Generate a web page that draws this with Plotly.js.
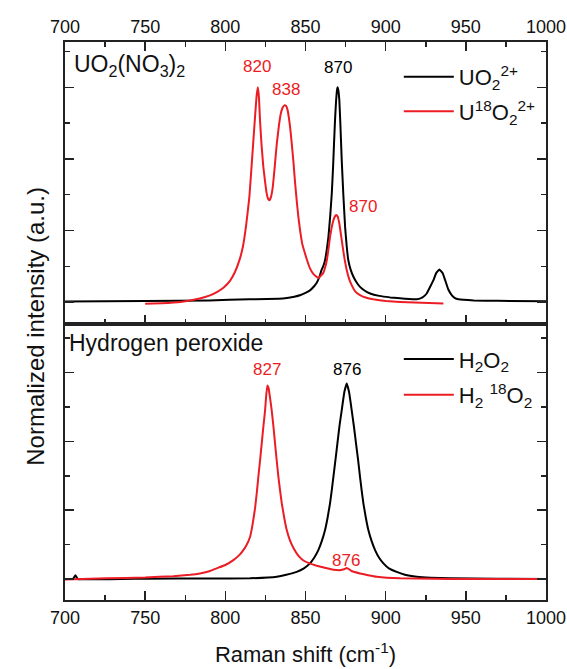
<!DOCTYPE html>
<html>
<head>
<meta charset="utf-8">
<script src="https://cdn.plot.ly/plotly-3.0.1.min.js"></script>
<style>html,body{margin:0;padding:0;background:#fff;}#chart{width:567px;height:669px;}</style>
</head>
<body>
<div id="chart"></div>
<script>
// ---- Top panel: UO2(NO3)2 ----
const uo2X = [700, 750, 790, 815, 836, 843, 847, 850, 853, 855.5, 857, 858.7, 860, 861.2, 862.2, 863.3, 864.3, 865.4, 866.4, 867.2, 867.8, 868.5, 869.1, 869.6, 870, 870.5, 871.1, 871.8, 872.6, 873.6, 874.7, 875.7, 876.7, 878.2, 879.9, 882, 884, 887, 890.3, 896, 902.7, 912, 919.4, 923, 925.6, 928, 929.8, 931.5, 933.5, 935.5, 937.1, 939, 941.2, 943, 945.4, 955, 970, 1000];
const uo2Y = [0.003, 0.005, 0.008, 0.013, 0.017, 0.025, 0.033, 0.043, 0.056, 0.075, 0.09, 0.118, 0.149, 0.17, 0.195, 0.245, 0.304, 0.4, 0.506, 0.63, 0.74, 0.86, 0.94, 0.985, 1.0, 0.985, 0.94, 0.82, 0.66, 0.5, 0.35, 0.26, 0.195, 0.15, 0.118, 0.09, 0.071, 0.053, 0.04, 0.029, 0.022, 0.016, 0.013, 0.022, 0.04, 0.075, 0.102, 0.135, 0.152, 0.135, 0.102, 0.06, 0.033, 0.02, 0.013, 0.008, 0.006, 0.004];

const u18X = [750, 760, 772, 784, 790, 795, 799, 803, 806, 809, 811, 813, 815, 817, 818.5, 819.5, 820.3, 821, 821.6, 822.6, 823.7, 824.8, 825.8, 826.7, 827.5, 828.5, 829.6, 830.8, 832.1, 833.4, 834.6, 835.7, 836.8, 837.8, 838.8, 839.6, 840.4, 841.4, 842.4, 843.4, 844.5, 845.5, 846.6, 848, 849.7, 851.2, 852.8, 855, 858, 861, 862.2, 863.3, 864.3, 865.3, 866.4, 867.4, 868.3, 869.1, 870, 871.1, 872.2, 873.2, 874.4, 875.7, 877.2, 878.8, 881, 884, 888, 892.3, 900, 909, 936];
const u18Y = [-0.008, -0.005, 0.001, 0.017, 0.03, 0.048, 0.068, 0.1, 0.14, 0.2, 0.26, 0.36, 0.49, 0.7, 0.86, 0.96, 1.0, 0.95, 0.85, 0.73, 0.63, 0.56, 0.506, 0.48, 0.474, 0.49, 0.536, 0.63, 0.738, 0.82, 0.878, 0.905, 0.916, 0.914, 0.895, 0.86, 0.815, 0.74, 0.66, 0.565, 0.474, 0.4, 0.335, 0.27, 0.226, 0.19, 0.157, 0.13, 0.112, 0.135, 0.16, 0.195, 0.245, 0.304, 0.35, 0.381, 0.398, 0.405, 0.4, 0.366, 0.31, 0.257, 0.2, 0.149, 0.108, 0.079, 0.05, 0.033, 0.02, 0.013, 0.005, 0.001, -0.006];

// ---- Bottom panel: hydrogen peroxide ----
const h2o2X = [705, 706.5, 708, 750, 790, 815.4, 832.1, 838, 844.5, 849, 852.8, 855.5, 858, 860.2, 862.2, 863.8, 865.3, 866.4, 867.4, 868.7, 869.9, 871.3, 872.6, 874.2, 875.7, 877.2, 878.8, 880.2, 881.5, 882.8, 884, 885, 886.1, 887.6, 889.2, 891.2, 893.4, 895.8, 898.6, 902, 906.9, 912, 919.4, 928, 940, 970, 1000];
const h2o2Y = [0.0, 0.02, 0.0, 0.002, 0.003, 0.004, 0.012, 0.022, 0.037, 0.055, 0.08, 0.11, 0.148, 0.195, 0.251, 0.315, 0.387, 0.455, 0.523, 0.61, 0.694, 0.79, 0.864, 0.955, 1.0, 0.955, 0.864, 0.78, 0.694, 0.61, 0.523, 0.455, 0.387, 0.315, 0.251, 0.195, 0.148, 0.11, 0.08, 0.055, 0.037, 0.022, 0.012, 0.007, 0.004, 0.002, 0.0];

const h218X = [700, 726, 750, 767.5, 778, 784.2, 790, 794.6, 800, 805, 809, 811, 813, 815.4, 817, 818.5, 819.6, 820.6, 821.7, 822.7, 823.8, 824.8, 825.5, 826.2, 827, 828, 828.9, 830, 831, 832, 833.1, 834.1, 835.2, 836.7, 838.3, 840.2, 842.4, 845.5, 848.7, 852.5, 857, 863.3, 867.4, 872, 874, 875.7, 877.5, 879, 884, 889, 894.5, 909, 930, 950, 1000];
const h218Y = [-0.002, 0.004, 0.008, 0.015, 0.022, 0.029, 0.04, 0.055, 0.072, 0.097, 0.125, 0.145, 0.17, 0.215, 0.28, 0.36, 0.44, 0.523, 0.61, 0.694, 0.785, 0.864, 0.94, 0.99, 0.975, 0.92, 0.864, 0.78, 0.694, 0.61, 0.523, 0.455, 0.387, 0.315, 0.251, 0.2, 0.16, 0.12, 0.095, 0.08, 0.068, 0.055, 0.048, 0.046, 0.05, 0.056, 0.048, 0.04, 0.029, 0.02, 0.012, 0.004, 0.002, 0.0, 0.0];

// ---- Peak labels ----
const topLabelText = ['820', '838', '870', '870'];
const topLabelX = [820, 838, 870, 886];
const topLabelY = [1.098, 0.99, 1.09, 0.443];
const topLabelColor = ['red', 'red', 'black', 'red'];
const botLabelText = ['827', '876', '876'];
const botLabelX = [826, 876, 875];
const botLabelY = [1.074, 1.074, 0.097];
const botLabelColor = ['red', 'black', 'red'];

const tickVals = [700, 750, 800, 850, 900, 950, 1000];

const FONT = '"Liberation Sans", Arial, Helvetica, sans-serif';
const RED = '#ec1c24';
const BLK = '#000000';
const AX = '#222222';
const colorOf = c => c === 'red' ? RED : BLK;
const LINE = {width: 2, shape: 'spline', smoothing: 0.25};

const traces = [
  {x: uo2X, y: uo2Y, xaxis: 'x2', yaxis: 'y2', type: 'scatter', mode: 'lines', name: 'UO<sub>2</sub><sup>2+</sup>',
   line: Object.assign({color: BLK}, LINE), legend: 'legend', legendgroup: 'a'},
  {x: u18X, y: u18Y, xaxis: 'x2', yaxis: 'y2', type: 'scatter', mode: 'lines', name: 'U<sup>18</sup>O<sub>2</sub><sup>2+</sup>',
   line: Object.assign({color: RED}, LINE), legend: 'legend', legendgroup: 'b'},
  {x: h2o2X, y: h2o2Y, xaxis: 'x', yaxis: 'y', type: 'scatter', mode: 'lines', name: 'H<sub>2</sub>O<sub>2</sub>',
   line: Object.assign({color: BLK}, LINE), legend: 'legend2', legendgroup: 'c'},
  {x: h218X, y: h218Y, xaxis: 'x', yaxis: 'y', type: 'scatter', mode: 'lines', name: 'H<sub>2</sub> <sup>18</sup>O<sub>2</sub>',
   line: Object.assign({color: RED}, LINE), legend: 'legend2', legendgroup: 'd'}
];

const annotations = [];
topLabelText.forEach((t, i) => annotations.push({
  text: t, x: topLabelX[i], y: topLabelY[i], xref: 'x2', yref: 'y2', showarrow: false,
  font: {family: FONT, size: 17, color: colorOf(topLabelColor[i])}
}));
botLabelText.forEach((t, i) => annotations.push({
  text: t, x: botLabelX[i], y: botLabelY[i], xref: 'x', yref: 'y', showarrow: false,
  font: {family: FONT, size: 17, color: colorOf(botLabelColor[i])}
}));
annotations.push({
  text: 'UO<sub>2</sub>(NO<sub>3</sub>)<sub>2</sub>', xref: 'paper', yref: 'paper', x: 0.014, y: 0.957,
  xanchor: 'left', yanchor: 'middle', showarrow: false, font: {family: FONT, size: 23, color: '#111'}
});
annotations.push({
  text: 'Hydrogen peroxide', xref: 'paper', yref: 'paper', x: 0.004, y: 0.461,
  xanchor: 'left', yanchor: 'middle', showarrow: false, font: {family: FONT, size: 23, color: '#111'}
});
annotations.push({
  text: 'Normalized intensity (a.u.)', xref: 'paper', yref: 'paper', x: -0.062, y: 0.49,
  xanchor: 'center', yanchor: 'middle', textangle: -90, showarrow: false, font: {family: FONT, size: 24, color: '#111'}
});

const xBase = {
  range: [700, 1000], tickvals: tickVals, ticks: 'inside', ticklen: 9, tickwidth: 1.5, tickcolor: AX,
  minor: {dtick: 25, ticks: 'inside', ticklen: 5, tickwidth: 1.5, tickcolor: AX},
  showline: true, linecolor: AX, linewidth: 2, showgrid: false, zeroline: false,
  tickfont: {family: FONT, size: 18, color: '#111'}
};
const yBase = {
  ticks: 'inside', ticklen: 9, tickwidth: 1.5, tickcolor: AX, mirror: 'ticks',
  showline: true, linecolor: AX, linewidth: 2, showgrid: false, zeroline: false, showticklabels: false
};

const layout = {
  width: 567, height: 669,
  margin: {l: 65, r: 21, t: 42, b: 69},
  paper_bgcolor: '#fff', plot_bgcolor: '#fff',
  showlegend: true,
  font: {family: FONT, color: '#111'},
  xaxis: Object.assign({}, xBase, {anchor: 'y', mirror: true,
    title: {text: 'Raman shift (cm<sup>-1</sup>)', font: {family: FONT, size: 22, color: '#111'}, standoff: 20}}),
  xaxis2: Object.assign({}, xBase, {anchor: 'y2', side: 'top', mirror: 'ticks'}),
  yaxis: Object.assign({}, yBase, {domain: [0, 0.4946], range: [-0.107, 1.304], tick0: 0, dtick: 0.352,
    minor: {tick0: 0, dtick: 0.176, ticks: 'inside', ticklen: 5, tickwidth: 1.5, tickcolor: AX}}),
  yaxis2: Object.assign({}, yBase, {domain: [0.4946, 1], range: [-0.102, 1.211], tick0: 0, dtick: 1/3,
    minor: {tick0: 0, dtick: 1/6, ticks: 'inside', ticklen: 5, tickwidth: 1.5, tickcolor: AX}}),
  legend: {x: 0.694, y: 0.975, xanchor: 'left', yanchor: 'top', bgcolor: 'rgba(0,0,0,0)',
    font: {family: FONT, size: 22, color: '#111'}, tracegroupgap: 3, itemwidth: 50},
  legend2: {x: 0.694, y: 0.469, xanchor: 'left', yanchor: 'top', bgcolor: 'rgba(0,0,0,0)',
    font: {family: FONT, size: 22, color: '#111'}, tracegroupgap: 4, itemwidth: 50},
  annotations: annotations
};

Plotly.newPlot('chart', traces, layout, {staticPlot: true, displayModeBar: false});
</script>
</body>
</html>
